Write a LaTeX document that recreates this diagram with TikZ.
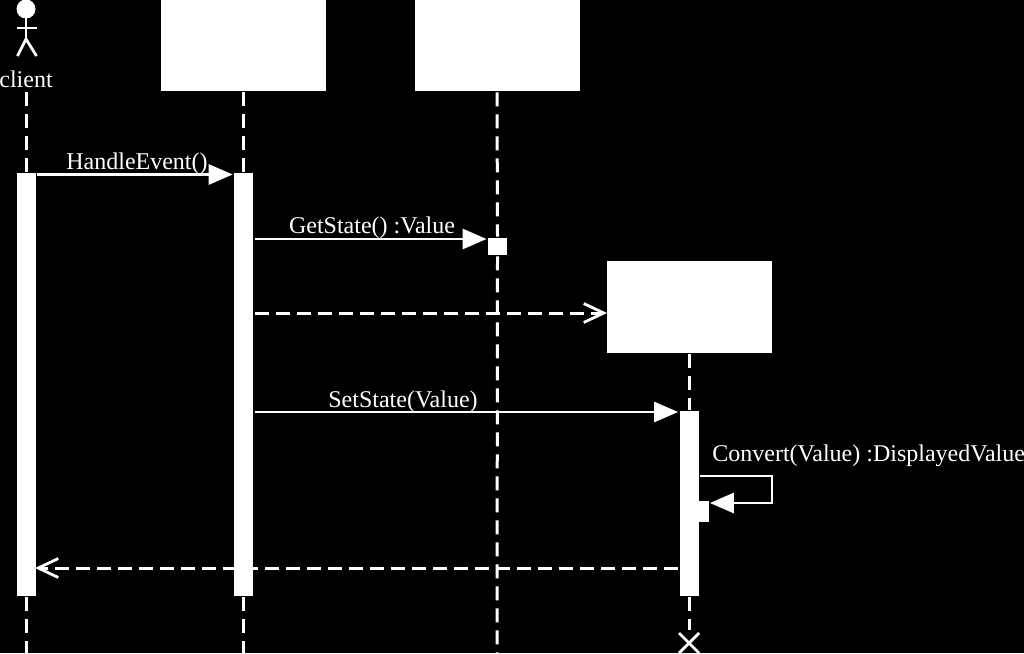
\documentclass[tikz,border=0pt]{standalone}
\usepackage{fontspec}
\setmainfont{Liberation Serif}
\usetikzlibrary{arrows.meta}
\begin{document}
\begin{tikzpicture}[x=1pt, y=-1pt, white, line width=2.8pt,
		>={Triangle[length=24pt,width=20pt,fill=white]},
		every node/.style={font=\fontsize{24}{28}\selectfont, inner sep=0pt},
		box/.style={draw=none, fill=white, minimum width=165pt, minimum height=92pt},
		bar/.style={draw=none, fill=white, minimum width=19pt},
		life/.style={dash pattern=on 14pt off 8pt, line width=3pt},
		reply/.style={dash pattern=on 14pt off 7pt, line width=3pt, -{Straight Barb[length=20pt,width=19pt,line width=2.8pt]}}]
	\useasboundingbox (0,0) rectangle (1024,653);
	\fill[black] (0,0) rectangle (1024,653);

	\node[box] (subject) at (243,45) {};
	\node[box] (state) at (497,45) {};
	\node[box] (view) at (689,307) {};

	\node[bar, minimum height=423pt] (clientbar) at (26,384.5) {};
	\node[bar, minimum height=423pt] (subjectbar) at (243.6,384.5) {};
	\node[bar, minimum height=17pt] (statebar) at (497.5,246.5) {};
	\node[bar, minimum height=185pt] (viewbar) at (689,503.5) {};
	\node[draw=none, fill=white, minimum width=11pt, minimum height=21pt] (selfbar) at (703,511.5) {};

	\fill[white] (26,9) circle (9.5);
	\coordinate (neck) at (26,18);
	\coordinate (hip) at (26,39);
	\draw (neck) -- (hip);
	\draw (17,28) -- (37,28);
	\draw (hip) -- (17.5,56);
	\draw (hip) -- (36.5,56);
	\node (client) at (26,79) {client};

	\coordinate (clientend) at (26,653);
	\coordinate (subjectend) at (243.6,653);
	\coordinate (stateend) at (497,653);
	\coordinate (viewend) at (689,630);
	\coordinate (clienttop) at (26,92);
	\draw[life] (clienttop) -- (clientbar.north);
	\draw[life] (clientbar.south) -- (clientend);
	\draw[life] (subject.south -| subjectbar) -- (subjectbar.north);
	\draw[life] (subjectbar.south) -- (subjectend);
	\draw[life] (state.south) -- (statebar.north);
	\draw[life] (statebar.south) -- (stateend);
	\draw[life] (view.south) -- (viewbar.north);
	\draw[life] (viewbar.south) -- (viewend);

	\coordinate (cross) at (689,643);
	\draw (679,633) -- (699,653);
	\draw (699,633) -- (679,653);

	\coordinate (rowa) at (0,174.5);
	\coordinate (rowb) at (0,239);
	\coordinate (rowc) at (0,412);
	\coordinate (create) at (607,313);
	\coordinate (back) at (35,568);
	\draw[->] (clientbar.east |- rowa) -- (subjectbar.west |- rowa);
	\draw[->] (subjectbar.east |- rowb) -- (statebar.west |- rowb);
	\draw[reply] (subjectbar.east |- create) -- (create);
	\draw[->] (subjectbar.east |- rowc) -- (viewbar.west |- rowc);
	\draw[reply] (viewbar.west |- back) -- (back);

	\coordinate (loopa) at (772,476);
	\coordinate (loopb) at (772,503);
	\draw[->] (viewbar.east |- loopa) -- (loopa) -- (loopb) -- (selfbar.east |- loopb);

	\node (handle) at (137,164) {HandleEvent()};
	\node (getstate) at (372,228) {GetState() :Value};
	\node (setstate) at (403,402) {SetState(Value)};
	\node[anchor=west] (convert) at (711,456) {Convert(Value) :DisplayedValue};
\end{tikzpicture}
\end{document}
